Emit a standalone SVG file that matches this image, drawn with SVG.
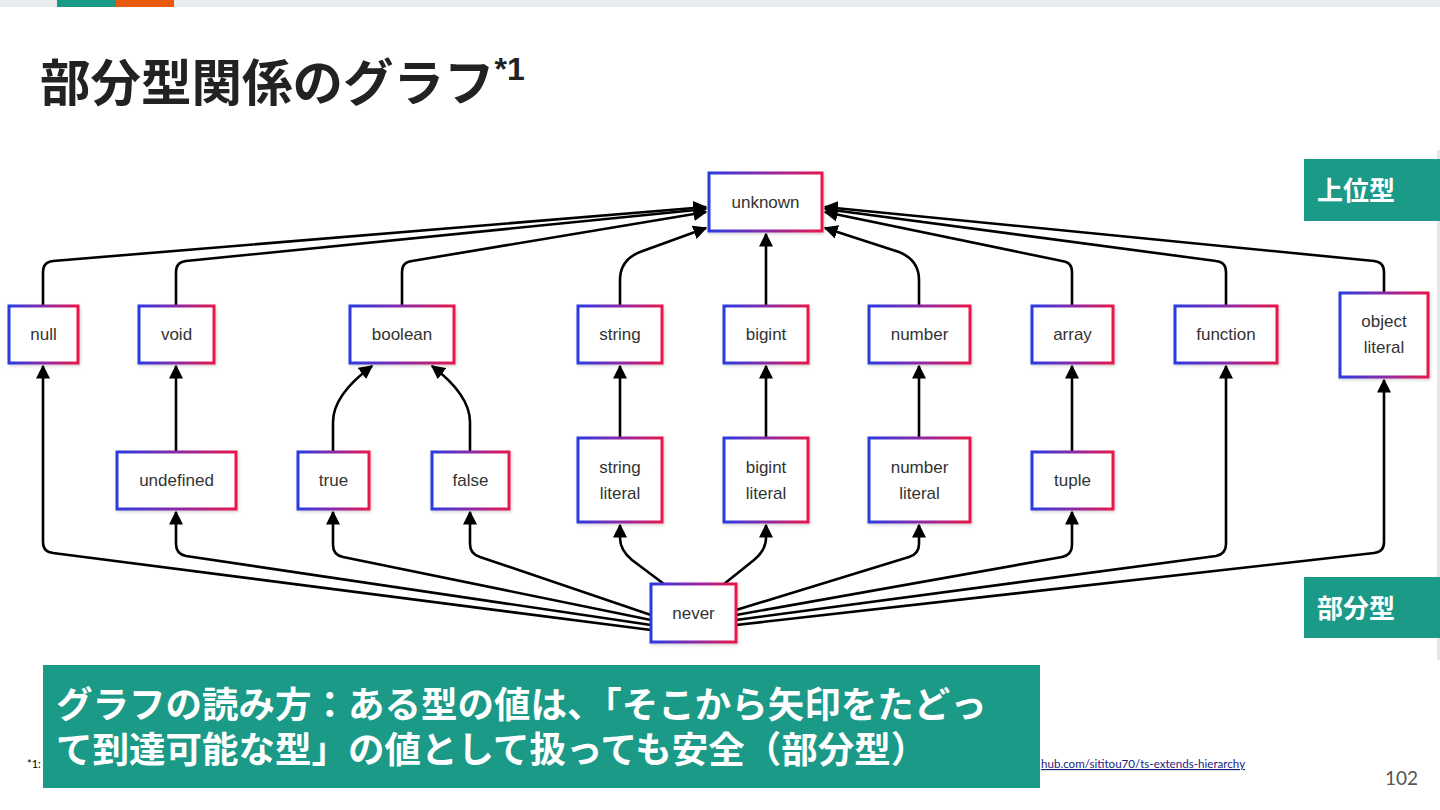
<svg xmlns="http://www.w3.org/2000/svg" width="1440" height="810" viewBox="0 0 1440 810">
<defs>
<linearGradient id="bd" x1="0" y1="0" x2="1" y2="0">
<stop offset="0" stop-color="#2a3be0"/>
<stop offset="0.5" stop-color="#8a2aa8"/>
<stop offset="1" stop-color="#e8184c"/>
</linearGradient>
<filter id="sh" x="-10%" y="-10%" width="130%" height="130%">
<feDropShadow dx="1" dy="1.5" stdDeviation="1.5" flood-color="#000" flood-opacity="0.18"/>
</filter>
<marker id="ah" viewBox="0 0 10 10" refX="9" refY="5" markerWidth="14" markerHeight="14" markerUnits="userSpaceOnUse" orient="auto">
<path d="M0,0 L10,5 L0,10 z" fill="#000"/>
</marker>
<style>
.n rect{fill:#fff;stroke:url(#bd);stroke-width:3;filter:url(#sh)}
.n text{font-family:"Liberation Sans",Arial,sans-serif;font-size:17px;fill:#333;text-anchor:middle}
.e path{fill:none;stroke:#000;stroke-width:2.6;marker-end:url(#ah)}
.lbl{font-family:"Noto Sans CJK JP","Noto Sans",sans-serif;font-weight:bold;fill:#fff}
</style>
</defs>
<rect x="0" y="0" width="1440" height="810" fill="#fff"/>
<rect x="0" y="0" width="1440" height="7" fill="#e8ecef"/>
<rect x="57" y="0" width="59" height="7" fill="#1b9a88"/>
<rect x="116" y="0" width="58" height="7" fill="#e8590c"/>
<rect x="1437" y="150" width="3" height="510" fill="#e6e6e6"/>

<text x="40" y="101" font-family="Noto Sans CJK JP, sans-serif" font-weight="bold" font-size="50.5" fill="#222">部分型関係のグラフ<tspan font-family="Liberation Sans, Arial, sans-serif" font-size="32" dy="-21">*1</tspan></text>

<g id="edges" class="e">
<path d="M43,306 V272 Q43,262 53,261 L706,207"/>
<path d="M176,306 V272 Q176,262 186,261 L706,209"/>
<path d="M402,306 V272 Q402,262 412,261 L706,212"/>
<path d="M620,306 V280 Q620,260 640,252 L706,228"/>
<path d="M766,306 V234"/>
<path d="M919,306 V280 Q919,260 899,252 L825,228"/>
<path d="M1072,306 V272 Q1072,262 1062,261 L825,212"/>
<path d="M1226,306 V272 Q1226,262 1216,261 L825,209"/>
<path d="M1384,293 V272 Q1384,262 1374,261 L825,207"/>
<path d="M176,452 V366"/>
<path d="M333,452 V422 Q333,395 372,366"/>
<path d="M470,452 V422 Q470,395 432,366"/>
<path d="M620,438 V366"/>
<path d="M766,438 V366"/>
<path d="M919,438 V366"/>
<path d="M1072,452 V366"/>
<path d="M651,630 L53,553 Q43,552 43,542 V366"/>
<path d="M651,625 L186,556 Q176,554 176,544 V512"/>
<path d="M651,620 L343,557 Q333,555 333,545 V512"/>
<path d="M651,615 L480,557 Q470,554 470,544 V512"/>
<path d="M664,584 L632,560 Q620,550 620,538 V525"/>
<path d="M724,584 L754,560 Q766,550 766,538 V525"/>
<path d="M736,610 L909,557 Q919,554 919,544 V525"/>
<path d="M736,615 L1062,557 Q1072,555 1072,545 V512"/>
<path d="M736,620 L1216,556 Q1226,554 1226,544 V366"/>
<path d="M736,625 L1374,553 Q1384,552 1384,542 V380"/>
</g>

<g id="unknown" class="n"><rect x="709" y="173" width="113" height="58"/><text x="765.5" y="208">unknown</text></g>
<g id="null" class="n"><rect x="9" y="306" width="69" height="57"/><text x="43.5" y="340">null</text></g>
<g id="void" class="n"><rect x="139" y="306" width="75" height="57"/><text x="176.5" y="340">void</text></g>
<g id="boolean" class="n"><rect x="350" y="306" width="104" height="57"/><text x="402" y="340">boolean</text></g>
<g id="string" class="n"><rect x="578" y="306" width="84" height="57"/><text x="620" y="340">string</text></g>
<g id="bigint" class="n"><rect x="724" y="306" width="84" height="57"/><text x="766" y="340">bigint</text></g>
<g id="number" class="n"><rect x="869" y="306" width="101" height="57"/><text x="919.5" y="340">number</text></g>
<g id="array" class="n"><rect x="1032" y="306" width="81" height="57"/><text x="1072.5" y="340">array</text></g>
<g id="function" class="n"><rect x="1175" y="306" width="102" height="57"/><text x="1226" y="340">function</text></g>
<g id="object-literal" class="n"><rect x="1340" y="293" width="88" height="84"/><text x="1384" y="327">object</text><text x="1384" y="353">literal</text></g>
<g id="undefined" class="n"><rect x="117" y="452" width="119" height="57"/><text x="176.5" y="486">undefined</text></g>
<g id="true" class="n"><rect x="298" y="452" width="71" height="57"/><text x="333.5" y="486">true</text></g>
<g id="false" class="n"><rect x="432" y="452" width="77" height="57"/><text x="470.5" y="486">false</text></g>
<g id="string-literal" class="n"><rect x="578" y="438" width="84" height="84"/><text x="620" y="473">string</text><text x="620" y="499">literal</text></g>
<g id="bigint-literal" class="n"><rect x="724" y="438" width="84" height="84"/><text x="766" y="473">bigint</text><text x="766" y="499">literal</text></g>
<g id="number-literal" class="n"><rect x="869" y="438" width="101" height="84"/><text x="919.5" y="473">number</text><text x="919.5" y="499">literal</text></g>
<g id="tuple" class="n"><rect x="1032" y="452" width="81" height="57"/><text x="1072.5" y="486">tuple</text></g>
<g id="never" class="n"><rect x="651" y="584" width="85" height="58"/><text x="693.5" y="619">never</text></g>

<g id="label-super">
<rect x="1304" y="159" width="136" height="62" fill="#1b9a88"/>
<text class="lbl" x="1317" y="200" font-size="26">上位型</text>
</g>
<g id="label-sub">
<rect x="1304" y="577" width="136" height="61" fill="#1b9a88"/>
<text class="lbl" x="1317" y="618" font-size="26">部分型</text>
</g>

<text x="27" y="768" font-family="Lato, sans-serif" font-size="11" fill="#000">*1:</text>
<text x="1041" y="768" font-family="Lato, sans-serif" font-size="11.6" fill="#1a237e" text-decoration="underline">hub.com/sititou70/ts-extends-hierarchy</text>

<g id="note">
<rect x="43" y="665" width="997" height="123" fill="#1b9a88"/>
<text class="lbl" font-size="36.5"><tspan x="56" y="718">グラフの読み方：ある型の値は、「そこから矢印をたどっ</tspan><tspan x="56" y="763">て到達可能な型」の値として扱っても安全（部分型）</tspan></text>
</g>

<text x="1418" y="785" font-family="Lato, sans-serif" font-size="19" fill="#555" text-anchor="end">102</text>
</svg>
